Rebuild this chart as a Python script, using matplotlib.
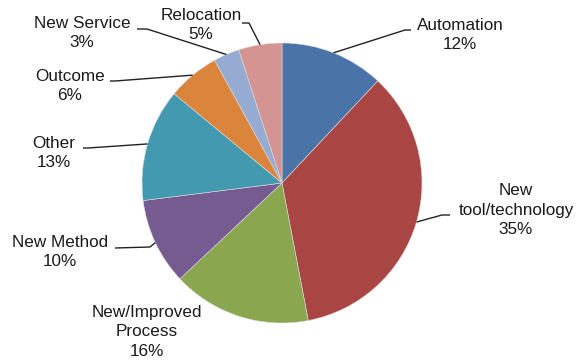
import matplotlib.pyplot as plt
import numpy as np

labels = ['Automation', 'New\ntool/technology', 'New/Improved\nProcess', 'New Method',
          'Other', 'Outcome', 'New Service', 'Relocation']
shares = [12, 35, 16, 10, 13, 6, 3, 5]
colors = ['#4a73a7', '#a94542', '#8aa64f', '#765b91', '#4299b0', '#db843c', '#95abd2', '#d49491']

W, H = 582, 363
cx, cy, r = 282, 183, 140

# label text centre, elbow of leader line, end of horizontal part (pixel coords, y down)
label_pos = [
    ((460, 35), (405, 30), (411, 30)),
    ((516, 210), (442, 215), (450, 215)),
    ((147, 332), None, None),
    ((60, 252), (150, 247), (115, 248)),
    ((54, 153), (88, 148), (83, 148)),
    ((70, 86), (115, 81), (110, 81)),
    ((82, 33), (147, 29), (137, 29)),
    ((201, 25), (249, 23), (242, 23)),
]

plt.rcParams['font.family'] = ['Liberation Sans', 'DejaVu Sans']

fig = plt.figure(figsize=(W / 100, H / 100), dpi=100)
ax = fig.add_axes([0, 0, 1, 1])


def fy(y):
    return H - y


wedges, _ = ax.pie(shares, colors=colors, center=(cx, fy(cy)), radius=r,
                   startangle=90, counterclock=False,
                   wedgeprops=dict(edgecolor='#dcdcdc', linewidth=0.4))

total = sum(shares)
start = 0
for lab, val, (txt, elbow, hend) in zip(labels, shares, label_pos):
    mid = (start + val / 2) / total * 2 * np.pi
    start += val
    ex = cx + r * np.sin(mid)
    ey = cy - r * np.cos(mid)
    if elbow is not None:
        ax.plot([ex, elbow[0], hend[0]], [fy(ey), fy(elbow[1]), fy(hend[1])],
                color='#222222', lw=1.0, solid_capstyle='butt')
    ax.text(txt[0], fy(txt[1]), f'{lab}\n{val}%', ha='center', va='center',
            fontsize=12.3, color='#1a1a1a', linespacing=1.38)

ax.set_xlim(0, W)
ax.set_ylim(0, H)
ax.set_aspect('equal')
ax.axis('off')

fig.savefig('out.png', dpi=100)
